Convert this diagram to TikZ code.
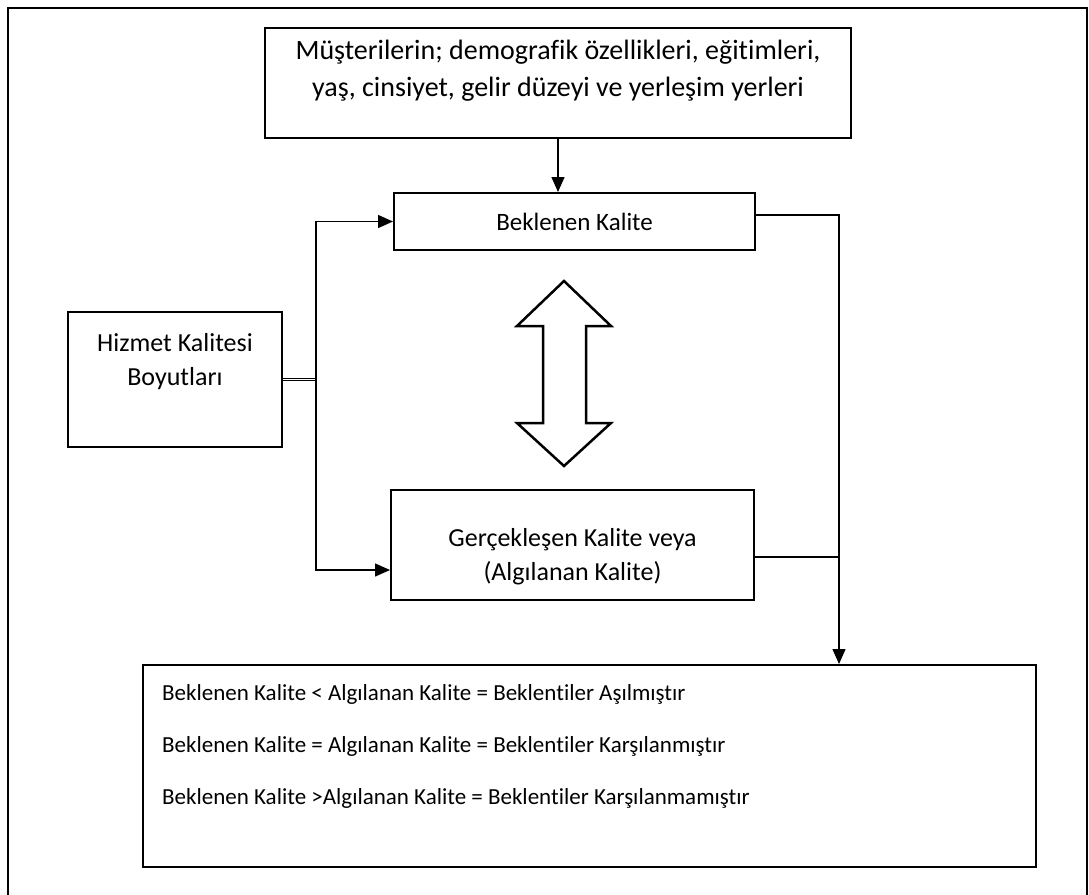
\documentclass[tikz,border=0pt]{standalone}
\usepackage{fontspec}
\setmainfont{Carlito}[Ligatures=NoCommon]
\usetikzlibrary{arrows.meta}

\tikzset{
  kutu/.style={draw, line width=2pt, rectangle, inner sep=0pt},
  yazi/.style={inner sep=0pt, align=center, font=\fontsize{26}{34}\selectfont},
  ok/.style={line width=1.4pt, -{Triangle[length=15pt,width=13pt]}},
  hat/.style={line width=1.4pt}
}

\begin{document}
\begin{tikzpicture}[x=1pt,y=-1pt]
        \useasboundingbox (0,0) rectangle (1089,894);

        % cerceve
        \draw[line width=2.5pt] (8,900) -- (8,8) -- (1087,8) -- (1087,900);

        % kutular
        \node[kutu, minimum width=586pt, minimum height=110pt] (musteri) at (558,83) {};
        \node[kutu, minimum width=361pt, minimum height=57pt] (beklenen) at (574.5,221.5) {};
        \node[kutu, minimum width=214pt, minimum height=135pt] (hizmet) at (175,379.5) {};
        \node[kutu, minimum width=363pt, minimum height=110pt] (gercek) at (572.5,545) {};
        \node[kutu, minimum width=893pt, minimum height=202pt] (sonuc) at (589.5,766) {};

        % yazilar
        \node[yazi, font=\fontsize{28}{37}\selectfont] (musteriT) at (558,71) {Müşterilerin; demografik özellikleri, eğitimleri,\\yaş, cinsiyet, gelir düzeyi ve yerleşim yerleri};
        \node[yazi, font=\fontsize{25}{32}\selectfont] (beklenenT) at (574.5,222) {Beklenen Kalite};
        \node[yazi] (hizmetT) at (175,362) {Hizmet Kalitesi\\Boyutları};
        \node[yazi] (gercekT) at (572.5,557) {Gerçekleşen Kalite veya\\(Algılanan Kalite)};
        \node[yazi, align=left, anchor=west, font=\fontsize{23}{52}\selectfont] (sonucT) at (162,746)
          {Beklenen Kalite < Algılanan Kalite = Beklentiler Aşılmıştır\\
           Beklenen Kalite = Algılanan Kalite = Beklentiler Karşılanmıştır\\
           Beklenen Kalite >Algılanan Kalite = Beklentiler Karşılanmamıştır};

        % cift yonlu ok
        \draw[line width=2.5pt, line join=miter] (564,281) -- (611,326) -- (586,326) -- (586,423) -- (611,423)
          -- (564,466) -- (517,423) -- (543,423) -- (543,326) -- (517,326) -- cycle;

        % baglantilar
        \coordinate (kol) at (316,379.5);
        \coordinate (sag) at (839,215);
        \draw[ok] (musteri.south) -- (musteri.south |- beklenen.north);
        \draw[line width=1pt, double, double distance=1.6pt] (hizmet.east) -- (kol);
        \draw[ok] (kol) |- (beklenen.west);
        \draw[ok] (kol) |- ([yshift=-25pt]gercek.west);
        \draw[ok] ([yshift=6.5pt]beklenen.east) -| (sag |- sonuc.north);
        \draw[hat] ([yshift=-12pt]gercek.east) -- ([yshift=-12pt]gercek.east -| sag);
    \end{tikzpicture}
\end{document}
